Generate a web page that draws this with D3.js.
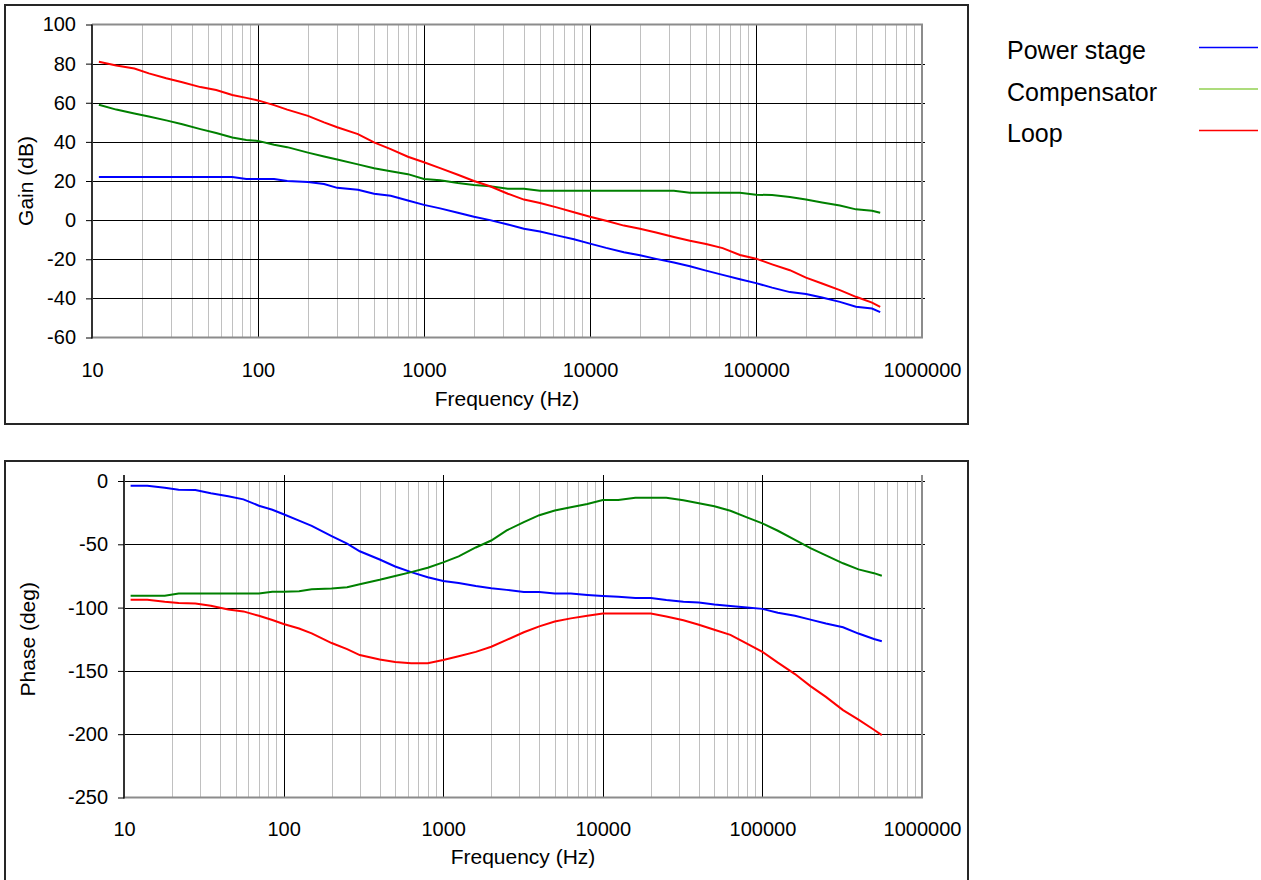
<!DOCTYPE html>
<html>
<head>
<meta charset="utf-8">
<title>Bode plot</title>
<script src="https://cdnjs.cloudflare.com/ajax/libs/d3/7.8.5/d3.min.js"></script>
<style>
  body { margin: 0; background: #fff; }
  svg text { font-family: Arial, "Liberation Sans", sans-serif; fill: #000; }
</style>
</head>
<body>
<svg id="chart" width="1261" height="880"></svg>
<script>

// frequency points (Hz)
var freq = [11, 14, 18, 22, 28, 35, 45, 56, 70, 85,
  100, 125, 150, 200, 250, 300, 400, 500, 630, 800,
  1000, 1250, 1600, 2000, 2500, 3200, 4000, 5000, 6300, 8000,
  10000, 12500, 16000, 20000, 25000, 32000, 40000, 50000, 63000, 80000,
  100000, 125000, 160000, 200000, 250000, 320000, 400000, 500000, 560000];

// gain (dB)
var gainPower = [22, 22, 22, 22, 22, 22, 22, 22, 22, 21,
  21, 21, 20, 19.5, 18.5, 16.5, 15.5, 13.5, 12.5, 10,
  7.8, 6, 3.8, 1.7, 0, -2.2, -4.4, -5.8, -7.8, -9.8,
  -12, -14.2, -16.4, -18, -19.8, -21.7, -23.6, -25.8, -28, -30.2,
  -32.2, -34.5, -36.8, -37.8, -39.6, -41.8, -44.3, -45.2, -47];
var gainComp = [59, 56.5, 54.5, 53, 51, 49, 46.5, 44.5, 42.2, 41,
  40.5, 38.5, 37.3, 34.5, 32.5, 31, 28.5, 26.5, 25, 23.5,
  21, 20.4, 19, 18, 17.3, 16, 16, 15, 15, 15,
  15, 15, 15, 15, 15, 15, 14, 14, 14, 14,
  13, 12.8, 11.8, 10.5, 9, 7.5, 5.5, 4.8, 3.8];
var gainLoop = [81, 79, 77.5, 75, 72.5, 70.5, 68, 66.5, 64, 62.5,
  61.2, 58.8, 56.5, 53.3, 50, 47.5, 44, 39.7, 36.3, 32.4,
  29.6, 26.6, 23.2, 20, 17.3, 13.5, 10.5, 8.8, 6.5, 4,
  1.7, -0.3, -2.8, -4.4, -6.3, -8.6, -10.5, -12.2, -14.3, -17.8,
  -19.7, -22.6, -25.6, -29.4, -32.4, -35.8, -39.2, -42.2, -44.4];

// phase (deg)
var phasePower = [-3.7, -3.7, -5.3, -7, -7.1, -9.7, -12, -14.5, -19.5, -22.7,
  -26.3, -31.3, -35.5, -43.5, -49.5, -55.5, -62, -67.5, -72, -76,
  -79, -80.5, -83, -84.8, -86, -87.6, -87.6, -88.9, -88.9, -90,
  -90.8, -91.5, -92.4, -92.4, -94, -95.3, -96, -97.5, -98.7, -100,
  -101, -104, -106.5, -109.5, -112.5, -115.5, -120.5, -124.8, -126.6];
var phaseComp = [-90.6, -90.6, -90.6, -88.8, -88.8, -88.8, -88.8, -88.8, -88.8, -87.5,
  -87.5, -87, -85.6, -85, -84, -81.5, -78, -75, -72, -68.5,
  -64.3, -59.5, -52.5, -47, -39, -32.5, -27, -23.3, -20.8, -18.2,
  -15, -15, -13.2, -13.2, -13.2, -15.2, -17.5, -20, -23.5, -28.7,
  -33.5, -39.3, -46.5, -53, -58.8, -65, -69.8, -72.8, -74.8];
var phaseLoop = [-93.8, -93.8, -95.4, -96.3, -96.7, -98.5, -101.5, -103, -106.5, -109.8,
  -113, -116.5, -120.4, -128, -132.8, -137.5, -141, -143, -144, -144,
  -141.4, -138.5, -135, -130.9, -125.5, -119.5, -114.8, -111, -108.5, -106.4,
  -104.6, -104.6, -104.6, -104.6, -107, -110, -113.5, -117.5, -121.5, -128.5,
  -134.9, -143.5, -152.5, -162, -170.5, -181, -188.5, -196.5, -200.7];

var seriesNames = ["Power stage", "Compensator", "Loop"];
var lineColors = ["#0000ff", "#008000", "#ff0000"];
var legendColors = ["#0000ff", "#92d050", "#ff0000"];

var freqTicks = [10, 100, 1000, 10000, 100000, 1000000];
var gainTicks = [100, 80, 60, 40, 20, 0, -20, -40, -60];
var phaseTicks = [0, -50, -100, -150, -200, -250];

var svg = d3.select("#chart");
var plain = function(d) { return String(d); };  // keep ascii hyphen for negatives

function panel(cfg) {
  var g = svg.append("g");

  // outer frame
  g.append("rect")
    .attr("x", cfg.box[0]).attr("y", cfg.box[1])
    .attr("width", cfg.box[2]).attr("height", cfg.box[3])
    .attr("fill", "none").attr("stroke", "#262626").attr("stroke-width", 2);

  var x = d3.scaleLog().domain([10, 1000000]).range([cfg.left, cfg.right]);
  var y = d3.scaleLinear().domain(cfg.yDomain).range([cfg.bottom, cfg.top]);

  // minor vertical grid
  var minor = x.ticks().filter(function(t) {
    var l = Math.log10(t);
    return Math.abs(l - Math.round(l)) > 1e-6;
  });
  g.selectAll(".minor").data(minor).enter().append("line")
    .attr("x1", function(d) { return Math.round(x(d)) + 0.5; })
    .attr("x2", function(d) { return Math.round(x(d)) + 0.5; })
    .attr("y1", cfg.top).attr("y2", cfg.bottom)
    .attr("stroke", "#c0c0c0");

  // major vertical grid
  g.selectAll(".major").data(freqTicks.slice(1, -1)).enter().append("line")
    .attr("x1", function(d) { return Math.round(x(d)) + 0.5; })
    .attr("x2", function(d) { return Math.round(x(d)) + 0.5; })
    .attr("y1", cfg.top - cfg.ext).attr("y2", cfg.bottom)
    .attr("stroke", "#000");

  // horizontal grid
  var hTicks = cfg.yTicks.filter(function(t) { return t != cfg.yDomain[0] && (cfg.zeroTop || t != cfg.yDomain[1]); });
  g.selectAll(".hgrid").data(hTicks).enter().append("line")
    .attr("x1", cfg.left).attr("x2", cfg.right + 3)
    .attr("y1", function(d) { return Math.round(y(d)) + 0.5; })
    .attr("y2", function(d) { return Math.round(y(d)) + 0.5; })
    .attr("stroke", "#000");

  // plot area border (grey)
  var bl = [[cfg.left, cfg.bottom], [cfg.right, cfg.bottom], [cfg.right, cfg.zeroTop ? cfg.top - cfg.ext : cfg.top]];
  if (!cfg.zeroTop) bl.push([cfg.left, cfg.top]);
  g.append("path")
    .attr("d", d3.line()(bl))
    .attr("fill", "none").attr("stroke", "#8c8c8c").attr("stroke-width", 2);

  // left axis line
  g.append("line")
    .attr("x1", cfg.left).attr("x2", cfg.left)
    .attr("y1", cfg.top - cfg.ext).attr("y2", cfg.bottom + 1)
    .attr("stroke", "#333").attr("stroke-width", 2);

  // y axis
  var yAxis = g.append("g")
    .attr("transform", "translate(" + cfg.left + ",0)")
    .call(d3.axisLeft(y).tickValues(cfg.yTicks).tickFormat(plain).tickSize(6).tickPadding(10));
  yAxis.select(".domain").remove();
  yAxis.selectAll("line").attr("stroke", "#000");
  yAxis.selectAll("text").attr("font-size", 20).style("font-family", "Arial, 'Liberation Sans', sans-serif");

  // x axis labels
  var xAxis = g.append("g")
    .attr("transform", "translate(0," + cfg.bottom + ")")
    .call(d3.axisBottom(x).tickValues(freqTicks).tickFormat(plain).tickSize(0).tickPadding(cfg.xPad));
  xAxis.select(".domain").remove();
  xAxis.selectAll("text").attr("font-size", 20).style("font-family", "Arial, 'Liberation Sans', sans-serif");

  // axis titles
  g.append("text")
    .attr("x", (cfg.left + cfg.right) / 2).attr("y", cfg.xTitleY)
    .attr("text-anchor", "middle").attr("font-size", 21)
    .text("Frequency (Hz)");
  g.append("text")
    .attr("transform", "translate(" + cfg.yTitleX + "," + (cfg.top + cfg.bottom) / 2 + ") rotate(-90)")
    .attr("text-anchor", "middle").attr("font-size", 21)
    .text(cfg.yTitle);

  // curves
  var line = d3.line()
    .x(function(d) { return x(d[0]); })
    .y(function(d) { return y(d[1]); });
  cfg.series.forEach(function(vals, i) {
    g.append("path")
      .datum(freq.map(function(f, k) { return [f, vals[k]]; }))
      .attr("d", line)
      .attr("fill", "none")
      .attr("stroke", lineColors[i])
      .attr("stroke-width", 2);
  });
}

panel({
  box: [5, 5, 963, 419],
  left: 92, right: 922, top: 24.5, bottom: 337.5,
  ext: 0, zeroTop: false,
  yDomain: [-60, 100], yTicks: gainTicks,
  yTitle: "Gain (dB)", yTitleX: 33,
  xPad: 25, xTitleY: 406,
  series: [gainPower, gainComp, gainLoop]
});

panel({
  box: [5, 461, 963, 430],
  left: 124, right: 922, top: 481, bottom: 797.5,
  ext: 6, zeroTop: true,
  yDomain: [-250, 0], yTicks: phaseTicks,
  yTitle: "Phase (deg)", yTitleX: 35,
  xPad: 24, xTitleY: 864,
  series: [phasePower, phaseComp, phaseLoop]
});

// legend
var legend = svg.append("g");
var legendY = [47.5, 89, 130.5];
seriesNames.forEach(function(name, i) {
  legend.append("text")
    .attr("x", 1007).attr("y", legendY[i] + 11.5)
    .attr("font-size", 25)
    .text(name);
  legend.append("line")
    .attr("x1", 1199).attr("x2", 1258)
    .attr("y1", legendY[i]).attr("y2", legendY[i])
    .attr("stroke", legendColors[i]).attr("stroke-width", 1.5);
});

</script>
</body>
</html>
